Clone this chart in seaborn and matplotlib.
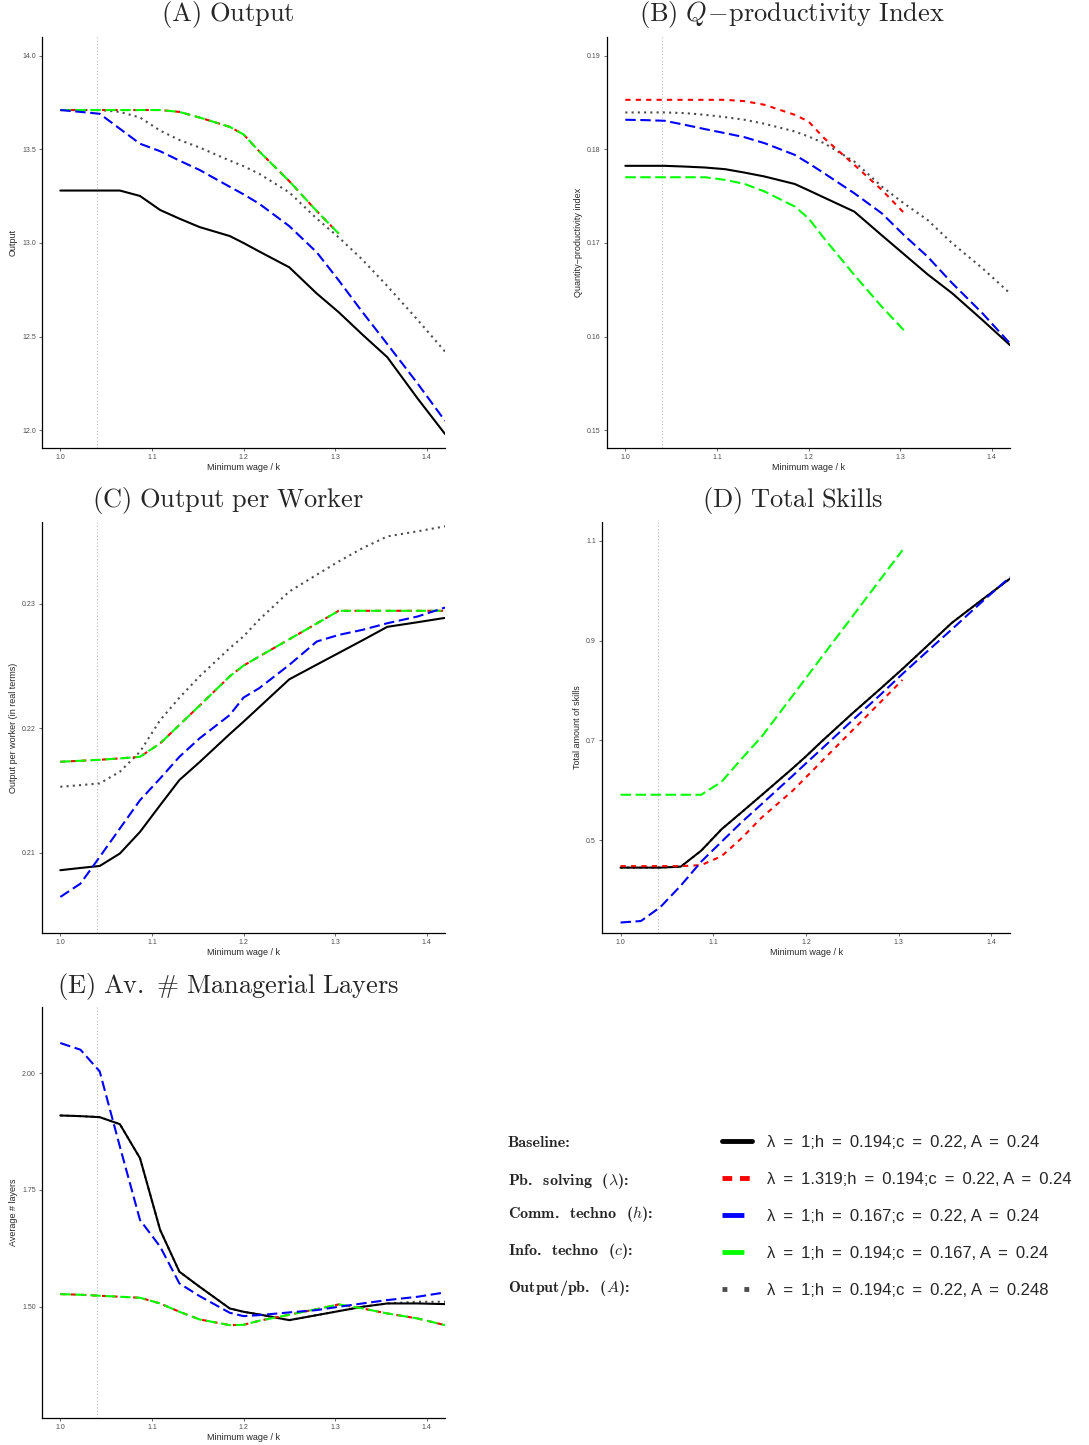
import numpy as np
import pandas as pd
import seaborn as sns
import matplotlib
matplotlib.use('Agg')
from matplotlib import pyplot as plt
from matplotlib.lines import Line2D
from matplotlib.ticker import FormatStrFormatter

sns.set_style('ticks')
plt.rcParams['font.family'] = ['Liberation Sans', 'DejaVu Sans']
plt.rcParams['mathtext.fontset'] = 'cm'

# minimum wage / k grid
wage = [1.0, 1.022, 1.043, 1.065, 1.087, 1.109, 1.13, 1.152, 1.185, 1.2,
        1.217, 1.25, 1.28, 1.304, 1.33, 1.357, 1.39, 1.42]
nan = np.nan

# (A) output
out_base = [13.28, 13.28, 13.28, 13.28, 13.251, 13.176, 13.13, 13.085, 13.037, 13.0,
            12.955, 12.87, 12.73, 12.63, 12.51, 12.39, 12.17, 11.98]
out_lam = [13.71, 13.71, 13.71, 13.71, 13.71, 13.71, 13.70, 13.67, 13.62, 13.58,
           13.49, 13.33, 13.17, 13.05, nan, nan, nan, nan]
out_h = [13.71, 13.70, 13.69, 13.61, 13.53, 13.49, 13.44, 13.39, 13.30, 13.26,
         13.21, 13.09, 12.95, 12.80, 12.63, 12.46, 12.25, 12.05]
out_c = [13.71, 13.71, 13.71, 13.71, 13.71, 13.71, 13.70, 13.67, 13.62, 13.58,
         13.49, 13.33, 13.17, 13.05, nan, nan, nan, nan]
out_A = [13.71, 13.71, 13.71, 13.70, 13.67, 13.60, 13.55, 13.51, 13.44, 13.41,
         13.37, 13.27, 13.13, 13.03, 12.91, 12.77, 12.59, 12.42]

# (B) Q-productivity index
qp_base = [0.17824, 0.17824, 0.17824, 0.17816, 0.17806, 0.17788, 0.17752, 0.1771, 0.1763, 0.17563,
           0.17485, 0.17335, 0.17082, 0.16882, 0.16665, 0.16462, 0.16176, 0.15909]
qp_lam = [0.18529, 0.18529, 0.18529, 0.18529, 0.18529, 0.18529, 0.18515, 0.18476, 0.18369, 0.18298,
          0.1812, 0.17834, 0.17567, 0.17324, nan, nan, nan, nan]
qp_h = [0.18316, 0.18312, 0.18305, 0.18262, 0.18216, 0.18173, 0.1813, 0.18066, 0.17941, 0.17852,
        0.17745, 0.17531, 0.17317, 0.17086, 0.16854, 0.16569, 0.16248, 0.15927]
qp_c = [0.17702, 0.17702, 0.17702, 0.17702, 0.17702, 0.17674, 0.17631, 0.1755, 0.17389, 0.17264,
        0.1705, 0.16658, 0.16319, 0.16069, nan, nan, nan, nan]
qp_A = [0.18394, 0.18394, 0.18394, 0.18387, 0.18369, 0.18344, 0.18316, 0.18273, 0.18191, 0.18137,
        0.18066, 0.1787, 0.17603, 0.17424, 0.17246, 0.16996, 0.16729, 0.16462]

# (C) output per worker
opw_base = [0.20858, 0.20876, 0.20892, 0.20992, 0.21166, 0.21381, 0.21583, 0.21727, 0.21953, 0.22052,
            0.22168, 0.22393, 0.22511, 0.22605, 0.22707, 0.22815, 0.22852, 0.22887]
opw_lam = [0.2173, 0.21738, 0.21746, 0.21757, 0.2177, 0.21878, 0.22026, 0.22181, 0.22417, 0.22503,
           0.22576, 0.22715, 0.22842, 0.22944, 0.22944, 0.22944, 0.22944, 0.22944]
opw_h = [0.20643, 0.2075, 0.20965, 0.21193, 0.21421, 0.21596, 0.2177, 0.21918, 0.22106, 0.22246,
         0.22321, 0.22509, 0.22697, 0.2275, 0.22791, 0.22844, 0.22898, 0.2297]
opw_c = [0.2173, 0.21738, 0.21746, 0.21757, 0.2177, 0.21878, 0.22026, 0.22181, 0.22417, 0.22503,
         0.22576, 0.22715, 0.22842, 0.22944, 0.22944, 0.22944, 0.22944, 0.22944]
opw_A = [0.21529, 0.21542, 0.21556, 0.2165, 0.21811, 0.22065, 0.22245, 0.22416, 0.22644, 0.22738,
         0.22872, 0.23099, 0.23234, 0.23341, 0.23448, 0.23542, 0.23583, 0.23623]

# (D) total skills
sk_base = [0.445, 0.445, 0.445, 0.447, 0.479, 0.522, 0.555, 0.590, 0.643, 0.668,
           0.698, 0.754, 0.803, 0.843, 0.888, 0.935, 0.982, 1.024]
sk_lam = [0.448, 0.448, 0.448, 0.448, 0.450, 0.468, 0.503, 0.545, 0.598, 0.626,
          0.658, 0.720, 0.776, 0.821, nan, nan, nan, nan]
sk_h = [0.335, 0.338, 0.366, 0.409, 0.457, 0.497, 0.535, 0.572, 0.628, 0.654,
        0.683, 0.740, 0.791, 0.833, 0.877, 0.922, 0.978, 1.027]
sk_c = [0.591, 0.591, 0.591, 0.591, 0.591, 0.617, 0.662, 0.707, 0.788, 0.825,
        0.867, 0.948, 1.022, 1.081, nan, nan, nan, nan]
sk_A = [0.445, 0.445, 0.445, 0.447, 0.479, 0.522, 0.555, 0.590, 0.643, 0.668,
        0.698, 0.754, 0.803, 0.843, 0.888, 0.935, 0.982, 1.024]

# (E) average number of layers
ly_base = [1.9093, 1.9079, 1.9057, 1.8907, 1.8179, 1.6643, 1.575, 1.5429, 1.4964, 1.4893,
           1.4836, 1.4714, 1.4821, 1.4907, 1.50, 1.5071, 1.5071, 1.5057]
ly_lam = [1.5271, 1.5257, 1.5236, 1.5214, 1.5193, 1.5071, 1.4893, 1.4729, 1.4607, 1.4614,
          1.47, 1.4829, 1.495, 1.505, 1.4964, 1.4857, 1.475, 1.4607]
ly_h = [2.0643, 2.05, 2.0036, 1.8429, 1.6857, 1.6286, 1.55, 1.5229, 1.4871, 1.48,
        1.4821, 1.4879, 1.4929, 1.50, 1.5071, 1.5143, 1.5214, 1.5307]
ly_c = [1.5271, 1.5257, 1.5236, 1.5214, 1.5193, 1.5071, 1.4893, 1.4729, 1.4607, 1.4614,
        1.47, 1.4829, 1.495, 1.505, 1.4964, 1.4857, 1.475, 1.4607]
ly_A = [1.9093, 1.9079, 1.9057, 1.8907, 1.8179, 1.6643, 1.575, 1.5429, 1.4964, 1.4893,
        1.4836, 1.4714, 1.4821, 1.4907, 1.50, 1.5071, 1.5107, 1.5107]

# drawing order: gray first, green over red, blue last
scenarios = ['Output/pb.', 'Baseline', 'Pb. solving', 'Info. techno', 'Comm. techno']
palette = {'Baseline': 'black', 'Pb. solving': '#FF0000', 'Comm. techno': '#0000FF',
           'Info. techno': '#00FF00', 'Output/pb.': '#4D4D4D'}
dashes = {'Baseline': '', 'Pb. solving': (2.5, 2.5), 'Comm. techno': (5, 2.2),
          'Info. techno': (5, 2.2), 'Output/pb.': (1, 2)}


def long_df(base, lam, h, c, a):
    cols = {'Baseline': base, 'Pb. solving': lam, 'Comm. techno': h,
            'Info. techno': c, 'Output/pb.': a}
    df = pd.DataFrame(cols)
    df['wage'] = wage
    df = df.melt(id_vars='wage', var_name='scenario', value_name='value')
    return df.dropna()


W, H = 1089, 1445
fig = plt.figure(figsize=(W / 100, H / 100), dpi=100)


def add_ax(l, t, r, b):
    return fig.add_axes([l / W, 1 - b / H, (r - l) / W, (b - t) / H])


panels = [
    (add_ax(42, 37, 445, 448), long_df(out_base, out_lam, out_h, out_c, out_A), 'Output',
     (11.905, 14.10), [12.0, 12.5, 13.0, 13.5, 14.0], '%.1f',
     r'$\mathrm{(A)\ Output}$', (228, 15)),
    (add_ax(607, 37, 1010, 448), long_df(qp_base, qp_lam, qp_h, qp_c, qp_A),
     'Quantity\u2212productivity index', (0.1481, 0.192), [0.15, 0.16, 0.17, 0.18, 0.19], '%.2f',
     r'$\mathrm{(B)}\ Q\!-\!\mathrm{productivity\ Index}$', (792, 15)),
    (add_ax(42, 522, 445, 933), long_df(opw_base, opw_lam, opw_h, opw_c, opw_A),
     'Output per worker (in real terms)', (0.20353, 0.23658), [0.21, 0.22, 0.23], '%.2f',
     r'$\mathrm{(C)\ Output\ per\ Worker}$', (228, 500)),
    (add_ax(602, 522, 1010, 933), long_df(sk_base, sk_lam, sk_h, sk_c, sk_A),
     'Total amount of skills', (0.314, 1.1375), [0.5, 0.7, 0.9, 1.1], '%.1f',
     r'$\mathrm{(D)\ Total\ Skills}$', (793, 500)),
    (add_ax(42, 1007, 445, 1418), long_df(ly_base, ly_lam, ly_h, ly_c, ly_A),
     'Average # layers', (1.262, 2.1414), [1.50, 1.75, 2.00], '%.2f',
     r'$\mathrm{(E)\ Av.\ \#\ Managerial\ Layers}$', (228, 986)),
]

for ax, df, ylab, ylim, yticks, fmt, title, (tx, ty) in panels:
    ax.axvline(1.04, color='#BDBDBD', lw=0.8, ls=(0, (1, 2)), zorder=0)
    sns.lineplot(data=df, x='wage', y='value', hue='scenario', style='scenario',
                 hue_order=scenarios, style_order=scenarios, palette=palette,
                 dashes=dashes, linewidth=1.5, estimator=None, sort=True,
                 legend=False, ax=ax)
    ax.set_xlim(0.98, 1.42)
    ax.set_ylim(*ylim)
    ax.set_xticks([1.0, 1.1, 1.2, 1.3, 1.4])
    ax.set_yticks(yticks)
    ax.xaxis.set_major_formatter(FormatStrFormatter('%.1f'))
    ax.yaxis.set_major_formatter(FormatStrFormatter(fmt))
    ax.set_xlabel('Minimum wage / k', fontsize=6.5, labelpad=1)
    ax.set_ylabel(ylab, fontsize=6.5, labelpad=3)
    ax.tick_params(labelsize=5, labelcolor='#4D4D4D', length=2.5, width=0.5,
                   color='#333333', pad=2)
    sns.despine(ax=ax)
    for s in ('left', 'bottom'):
        ax.spines[s].set_linewidth(0.9)
        ax.spines[s].set_color('black')
    fig.text(tx / W, 1 - ty / H, title, fontsize=19, ha='center', va='center')

# legend
eq = ' \u2009=\u2009 '
leg_labels = ['\u03bb' + eq + '1;h' + eq + '0.194;c' + eq + '0.22, A' + eq + '0.24',
              '\u03bb' + eq + '1.319;h' + eq + '0.194;c' + eq + '0.22, A' + eq + '0.24',
              '\u03bb' + eq + '1;h' + eq + '0.167;c' + eq + '0.22, A' + eq + '0.24',
              '\u03bb' + eq + '1;h' + eq + '0.194;c' + eq + '0.167, A' + eq + '0.24',
              '\u03bb' + eq + '1;h' + eq + '0.194;c' + eq + '0.22, A' + eq + '0.248']
leg_order = ['Baseline', 'Pb. solving', 'Comm. techno', 'Info. techno', 'Output/pb.']
leg_names = ['Baseline:',
             r'Pb.  solving  ($\lambda$):',
             r'Comm.  techno  ($h$):',
             r'Info.  techno  ($c$):',
             r'Output/pb.  ($A$):']
leg_dash = {'Baseline': '', 'Pb. solving': (2, 1.6), 'Comm. techno': (4.5, 2.2),
            'Info. techno': (4.5, 2.2), 'Output/pb.': (1, 3.5)}
handles = []
for k in leg_order:
    ln = Line2D([], [], color=palette[k], lw=3.5)
    if leg_dash[k]:
        ln.set_dashes(leg_dash[k])
    handles.append(ln)
fig.legend(handles, leg_labels, loc='upper left', bbox_to_anchor=(722 / W, 1 - 1135 / H),
           frameon=False, fontsize=12, handlelength=1.8, handletextpad=0.9,
           labelspacing=1.32, borderpad=0, borderaxespad=0)
for name, yy in zip(leg_names, [1143, 1181, 1214, 1251, 1288]):
    fig.text(508 / W, 1 - yy / H, name, fontsize=11.5, ha='left', va='center',
             family=['cmb10', 'DejaVu Serif'])

fig.savefig('out.png', dpi=100)
